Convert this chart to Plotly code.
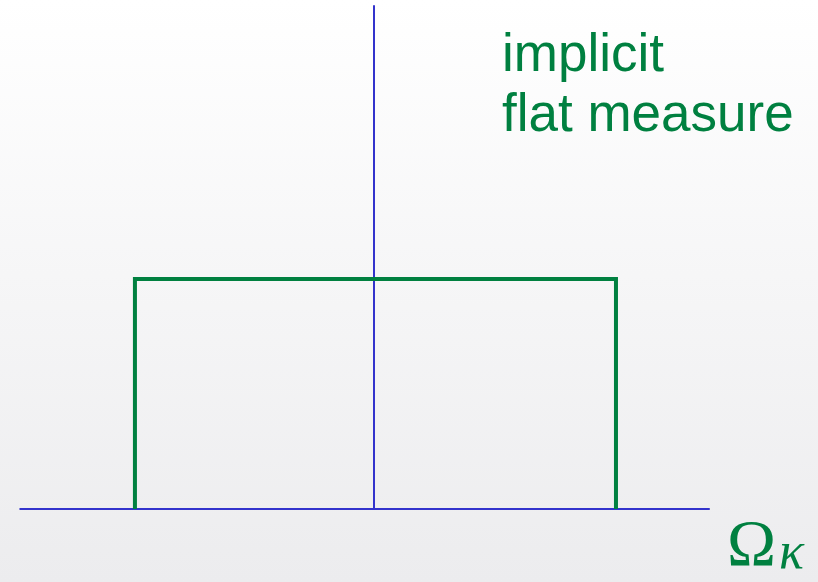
import plotly.graph_objects as go

# Flat (uniform) measure over Omega_kappa
box_x = [-1.0, -1.0, 1.0, 1.0]
box_y = [0.0, 1.0, 1.0, 0.0]

# Axes
haxis_x = [-1.48, 1.39]
haxis_y = [0.0, 0.0]
vaxis_x = [-0.006, -0.006]
vaxis_y = [0.0, 2.19]

label_lines = ["implicit", "flat measure"]
omega_text = "Ω"
kappa_text = "<i>κ</i>"

GREEN = "#008040"
BLUE = "#3333cc"

W, H = 818, 582

grad_svg = (
    "data:image/svg+xml;utf8,"
    "<svg xmlns='http://www.w3.org/2000/svg' width='818' height='582'>"
    "<defs><linearGradient id='g' x1='0' y1='0' x2='0' y2='1'>"
    "<stop offset='0' stop-color='%23ffffff'/>"
    "<stop offset='1' stop-color='%23ececee'/>"
    "</linearGradient></defs>"
    "<rect width='818' height='582' fill='url(%23g)'/></svg>"
)

fig = go.Figure()
fig.add_trace(go.Scatter(x=haxis_x, y=haxis_y, mode="lines",
                         line=dict(color=BLUE, width=2), hoverinfo="skip"))
fig.add_trace(go.Scatter(x=vaxis_x, y=vaxis_y, mode="lines",
                         line=dict(color=BLUE, width=2), hoverinfo="skip"))
fig.add_trace(go.Scatter(x=box_x, y=box_y, mode="lines",
                         line=dict(color=GREEN, width=4), hoverinfo="skip"))

fig.add_annotation(x=500 / W, y=1 - 84 / H, xref="paper", yref="paper",
                   text=label_lines[0], showarrow=False, xanchor="left", yanchor="bottom",
                   font=dict(family="Liberation Sans, Arial", size=53, color=GREEN))
fig.add_annotation(x=500 / W, y=1 - 144 / H, xref="paper", yref="paper",
                   text=label_lines[1], showarrow=False, xanchor="left", yanchor="bottom",
                   font=dict(family="Liberation Sans, Arial", size=53, color=GREEN))
fig.add_annotation(x=725 / W, y=1 - 581 / H, xref="paper", yref="paper",
                   text=omega_text, showarrow=False, xanchor="left", yanchor="bottom",
                   font=dict(family="Liberation Serif, Times New Roman", size=66, color=GREEN))
fig.add_annotation(x=777 / W, y=1 - 581 / H, xref="paper", yref="paper",
                   text=kappa_text, showarrow=False, xanchor="left", yanchor="bottom",
                   font=dict(family="Liberation Serif, Times New Roman", size=52, color=GREEN))

fig.update_layout(
    width=W, height=H,
    margin=dict(l=0, r=0, t=0, b=0),
    showlegend=False,
    paper_bgcolor="rgba(0,0,0,0)",
    plot_bgcolor="rgba(0,0,0,0)",
    images=[dict(source=grad_svg, xref="paper", yref="paper", x=0, y=1,
                 sizex=1, sizey=1, sizing="stretch", layer="below",
                 xanchor="left", yanchor="top")],
    xaxis=dict(range=[-1.561, 1.840], visible=False, fixedrange=True),
    yaxis=dict(range=[-0.317, 2.213], visible=False, fixedrange=True),
)

fig.write_html("out.html", config={"displayModeBar": False, "staticPlot": True},
               post_script="document.body.style.margin='0';document.body.style.overflow='hidden';")
